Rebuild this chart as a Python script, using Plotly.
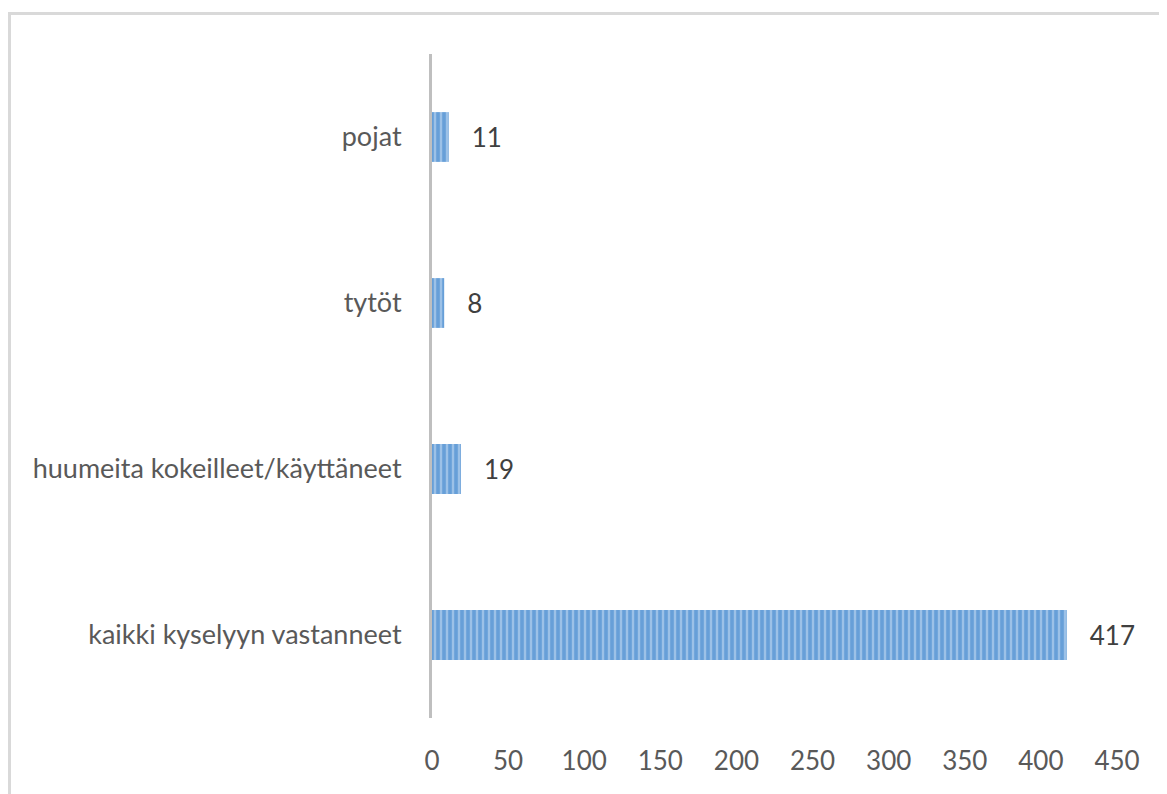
import plotly.graph_objects as go

categories = ["kaikki kyselyyn vastanneet", "huumeita kokeilleet/käyttäneet", "tytöt", "pojat"]
values = [417, 19, 8, 11]
x_ticks = [0, 50, 100, 150, 200, 250, 300, 350, 400, 450]

# the page body adds an 8px offset, so the figure is laid out 8px up/left
W, H = 1167, 794
L, R, T, B = 424, 58, 46, 84
pw, ph = W - L - R, H - T - B
OFF = 8


def px_x(px):
    return (px - OFF - L) / pw


def px_y(py):
    return (H - B - (py - OFF)) / ph


fig = go.Figure()
fig.add_trace(go.Bar(
    y=categories, x=values, orientation="h", width=0.3,
    marker=dict(
        color="#5b9bd5",
        line=dict(width=0),
        pattern=dict(shape="|", bgcolor="#679fd8", fgcolor="#d2e4f5",
                     size=6, solidity=0.4, fillmode="overlay"),
    ),
    texttemplate="\u00a0\u00a0\u00a0%{x}", textposition="outside",
    textfont=dict(size=26, color="#404040"),
    cliponaxis=False,
))

# outer chart frame (runs off the right and bottom edges)
fig.add_shape(type="rect", xref="paper", yref="paper",
              x0=px_x(9.5), x1=px_x(1190), y0=px_y(820), y1=px_y(13.5),
              line=dict(color="#d9d9d9", width=3), fillcolor="rgba(0,0,0,0)", layer="below")

fig.update_layout(
    width=W, height=H,
    margin=dict(l=L, r=R, t=T, b=B),
    plot_bgcolor="white", paper_bgcolor="white",
    showlegend=False,
    font=dict(family="Lato, Open Sans, sans-serif", color="#595959"),
    xaxis=dict(range=[0, 450], tickvals=x_ticks, showgrid=False, zeroline=False,
               showline=False, tickfont=dict(size=26, color="#595959"),
               ticks="", ticklabelstandoff=25),
    yaxis=dict(showgrid=False, zeroline=False, showline=True, linecolor="#bfbfbf",
               linewidth=3, ticks="", tickfont=dict(size=27, color="#595959"),
               ticklabelstandoff=22, range=[-0.5, 3.5]),
)

fig.write_html("out.html")
